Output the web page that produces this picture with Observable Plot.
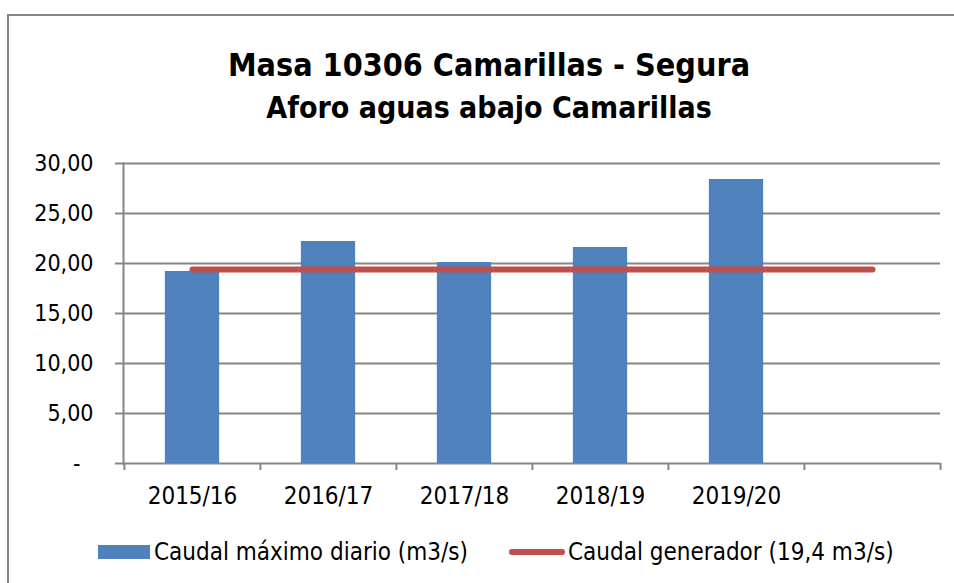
<!DOCTYPE html>
<html>
<head>
<meta charset="utf-8">
<script src="https://cdn.jsdelivr.net/npm/d3@7"></script>
<script src="https://cdn.jsdelivr.net/npm/@observablehq/plot@0.6"></script>
<style>
  html, body { margin: 0; padding: 0; background: #fff; }
  #chart { position: relative; width: 954px; height: 583px; overflow: hidden; background: #fff;
    font-family: "DejaVu Sans Condensed", "Liberation Sans Narrow", Lato, sans-serif; color: #000; }
  .border-top { position: absolute; left: 7px; top: 14px; width: 947px; height: 2px; background: #868686; }
  .border-left { position: absolute; left: 7px; top: 14px; width: 2px; height: 569px; background: #868686; }
  .title { position: absolute; left: 489px; transform: translateX(-50%); white-space: nowrap;
    font-weight: bold; line-height: 1; }
  #plot { position: absolute; left: 0; top: 130px; }
  .legend { position: absolute; top: 538px; left: 0; width: 954px; height: 28px; font-size: 24px; }
  .legend .item { position: absolute; top: 0; height: 28px; line-height: 28px; white-space: nowrap; }
  .sw-bar { position: absolute; left: 98px; top: 7px; width: 52px; height: 14px; background: #4F81BD; }
  .sw-line { position: absolute; left: 509px; top: 11px; width: 56px; height: 6px; border-radius: 3px; background: #C0504D; }
</style>
</head>
<body>
<div id="chart">
  <div class="border-top"></div>
  <div class="border-left"></div>
  <div class="title" id="t1" style="top:49px; font-size:32px;"></div>
  <div class="title" id="t2" style="top:93px; font-size:30px;"></div>
  <div id="plot"></div>
  <div class="legend">
    <div class="sw-bar"></div>
    <div class="item" id="l1" style="left:154px;"></div>
    <div class="sw-line"></div>
    <div class="item" id="l2" style="left:568px;"></div>
  </div>
</div>
<script>
const titleLines = ["Masa 10306 Camarillas - Segura", "Aforo aguas abajo Camarillas"];
const categories = ["2015/16", "2016/17", "2017/18", "2018/19", "2019/20", ""];
const caudalMaximo = [19.2, 22.2, 20.1, 21.6, 28.4];
const caudalGenerador = 19.4;
const yTicks = [0, 5, 10, 15, 20, 25, 30];
const legendLabels = ["Caudal máximo diario (m3/s)", "Caudal generador (19,4 m3/s)"];

document.getElementById("t1").textContent = titleLines[0];
document.getElementById("t2").textContent = titleLines[1];
document.getElementById("l1").textContent = legendLabels[0];
document.getElementById("l2").textContent = legendLabels[1];

const barsData = caudalMaximo.map((v, i) => ({cat: categories[i], v}));
const lineData = categories.map(cat => ({cat, v: caudalGenerador}));

const W = 954, H = 390, mL = 123, mR = 14, mT = 33, mB = 57;
const bw = (W - mL - mR) / categories.length;
const inset = bw * 0.3;
const grid = "#868686";
const fmt = d => d === 0 ? "-\u00a0\u00a0" : d.toFixed(2).replace(".", ",");

const plot = Plot.plot({
  width: W, height: H,
  marginLeft: mL, marginRight: mR, marginTop: mT, marginBottom: mB,
  style: {fontFamily: "'DejaVu Sans Condensed', 'Liberation Sans Narrow', Lato, sans-serif", fontSize: "23px", color: "#000", background: "transparent"},
  x: {type: "band", domain: categories, padding: 0, label: null},
  y: {domain: [0, 30], label: null},
  marks: [
    Plot.ruleY(yTicks, {stroke: grid, strokeWidth: 2}),
    Plot.axisY({ticks: yTicks, tickSize: 8, tickPadding: 22, tickFormat: fmt, stroke: grid, strokeWidth: 2, fill: "#000", label: null, fontSize: 23}),
    Plot.axisX({ticks: categories, tickSize: 7, tickFormat: () => "", dx: -bw / 2, stroke: grid, strokeWidth: 2, label: null}),
    Plot.axisX({ticks: [categories[categories.length - 1]], tickSize: 7, tickFormat: () => "", dx: bw / 2, stroke: grid, strokeWidth: 2, label: null}),
    Plot.axisX({ticks: categories.slice(0, caudalMaximo.length), tickSize: 0, tickPadding: 23, fill: "#000", label: null, fontSize: 24}),
    Plot.frame({anchor: "left", stroke: grid, strokeWidth: 2}),
    Plot.barY(barsData, {x: "cat", y: "v", fill: "#4F81BD", insetLeft: inset, insetRight: inset}),
    Plot.line(lineData, {x: "cat", y: "v", stroke: "#C0504D", strokeWidth: 6, strokeLinecap: "round"})
  ]
});
document.getElementById("plot").appendChild(plot);
</script>
</body>
</html>
